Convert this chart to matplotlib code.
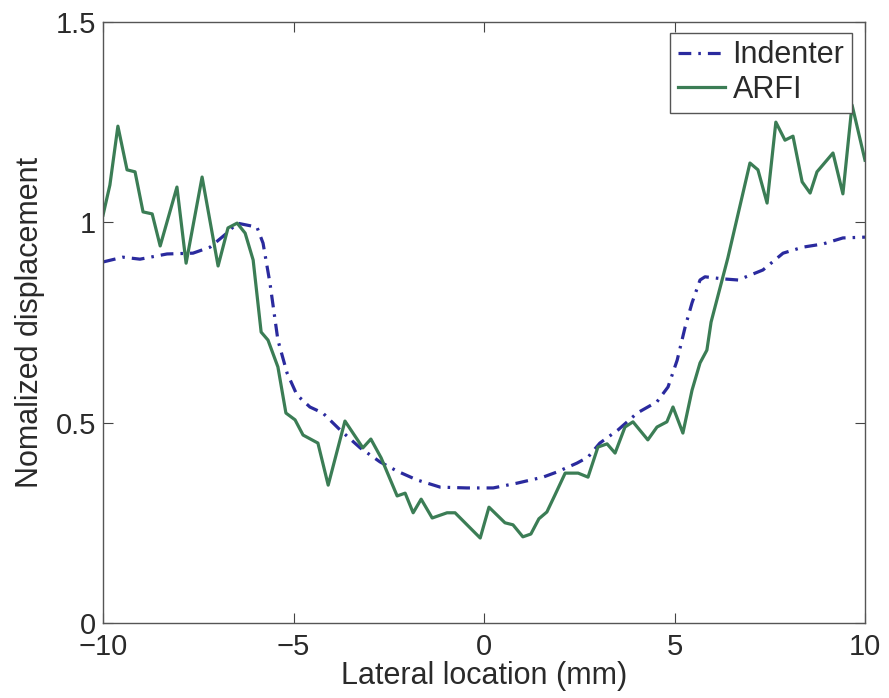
import matplotlib
matplotlib.use("Agg")
import matplotlib.pyplot as plt

plt.rcParams['font.family'] = ['Liberation Sans', 'DejaVu Sans']

indenter_x = [-10.00, -9.48, -9.03, -8.32, -7.64, -7.19, -6.75, -6.48, -5.96, -5.80,
              -5.62, -5.41, -5.17, -4.91, -4.57, -4.23, -3.78, -3.25, -2.73, -2.28,
              -1.76, -1.15, -0.45, 0.24, 0.87, 1.55, 1.92, 2.44, 2.73, 3.04,
              3.52, 4.02, 4.54, 4.83, 5.07, 5.28, 5.46, 5.67, 5.80, 6.25,
              6.67, 7.32, 7.85, 8.37, 8.90, 9.42, 10.00]
indenter_y = [0.901, 0.913, 0.908, 0.921, 0.923, 0.938, 0.973, 0.998, 0.988, 0.948,
              0.849, 0.706, 0.624, 0.569, 0.539, 0.524, 0.482, 0.437, 0.402, 0.379,
              0.357, 0.339, 0.337, 0.337, 0.349, 0.364, 0.377, 0.399, 0.414, 0.449,
              0.482, 0.524, 0.552, 0.589, 0.656, 0.739, 0.799, 0.856, 0.864, 0.859,
              0.856, 0.881, 0.923, 0.938, 0.946, 0.961, 0.963]

arfi_x = [-10.00, -9.82, -9.61, -9.37, -9.16, -8.95, -8.71, -8.50, -8.06, -7.82,
          -7.40, -6.98, -6.72, -6.48, -6.27, -6.06, -5.85, -5.67, -5.41, -5.20,
          -4.96, -4.75, -4.36, -4.09, -3.65, -3.18, -2.97, -2.70, -2.28, -2.07,
          -1.86, -1.65, -1.36, -0.97, -0.76, -0.10, 0.13, 0.55, 0.76, 1.02,
          1.23, 1.44, 1.65, 1.86, 2.13, 2.47, 2.73, 2.99, 3.23, 3.44,
          3.70, 3.91, 4.30, 4.54, 4.80, 4.96, 5.22, 5.46, 5.67, 5.85,
          5.96, 6.40, 6.98, 7.19, 7.43, 7.66, 7.90, 8.11, 8.35, 8.56,
          8.74, 9.16, 9.42, 9.66, 10.00]
arfi_y = [1.018, 1.093, 1.240, 1.131, 1.126, 1.026, 1.021, 0.941, 1.088, 0.898,
          1.113, 0.891, 0.986, 0.998, 0.973, 0.906, 0.726, 0.706, 0.639, 0.524,
          0.507, 0.469, 0.449, 0.344, 0.504, 0.437, 0.459, 0.412, 0.317, 0.324,
          0.275, 0.309, 0.262, 0.275, 0.275, 0.212, 0.289, 0.250, 0.245, 0.215,
          0.222, 0.260, 0.277, 0.319, 0.374, 0.374, 0.364, 0.439, 0.447, 0.424,
          0.489, 0.502, 0.457, 0.489, 0.502, 0.539, 0.474, 0.581, 0.649, 0.681,
          0.751, 0.911, 1.148, 1.131, 1.048, 1.250, 1.205, 1.215, 1.101, 1.073,
          1.126, 1.173, 1.071, 1.293, 1.155]

x_ticks = [-10, -5, 0, 5, 10]
x_ticklabels = ['\u221210', '\u22125', '0', '5', '10']
y_ticks = [0, 0.5, 1, 1.5]
y_ticklabels = ['0', '0.5', '1', '1.5']

TXT = '#2a2a2a'
FS = 21

fig = plt.figure(figsize=(8.89, 6.98), dpi=100)
ax = fig.add_axes([0.1159, 0.1075, 0.8571, 0.861])

ax.plot(indenter_x, indenter_y, color='#2a2a9e', lw=2.3, linestyle=(0, (4, 2.2, 0.8, 2.2)),
        label='Indenter')
ax.plot(arfi_x, arfi_y, color='#3b7d55', lw=2.3, label='ARFI')

ax.set_xlim(-10, 10)
ax.set_ylim(0, 1.5)
ax.set_xticks(x_ticks)
ax.set_xticklabels(x_ticklabels)
ax.set_yticks(y_ticks)
ax.set_yticklabels(y_ticklabels)
ax.tick_params(direction='in', top=True, right=True, labelsize=FS, length=7,
               color='#444444', labelcolor=TXT, width=0.8)
ax.tick_params(axis='x', pad=7)
ax.tick_params(axis='y', pad=5)
for s in ax.spines.values():
    s.set_color('#555555')
    s.set_linewidth(1.0)

ax.set_xlabel('Lateral location (mm)', fontsize=22, color=TXT, labelpad=0)
ax.set_ylabel('Nomalized displacement', fontsize=22, color=TXT, labelpad=8)

leg = ax.legend(loc='upper right', fontsize=22, frameon=True, fancybox=False,
                borderpad=0.25, handlelength=1.55, handletextpad=0.25, labelspacing=0.15,
                bbox_to_anchor=(0.983, 0.982), borderaxespad=0.0)
leg.get_frame().set_edgecolor('#555555')
leg.get_frame().set_linewidth(1.0)
leg.get_frame().set_alpha(1)
for t in leg.get_texts():
    t.set_color(TXT)

fig.savefig('out.png', dpi=100)
